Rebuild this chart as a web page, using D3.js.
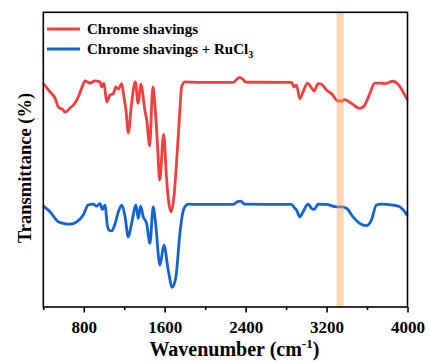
<!DOCTYPE html>
<html><head><meta charset="utf-8">
<script src="https://cdn.jsdelivr.net/npm/d3@7"></script>
<style>body{margin:0;background:#fff}svg{display:block}</style>
</head><body>
<script>
// Data (wavenumber cm-1, transmittance in arbitrary offset units)
const redWave = [400,466,516,548,598,614,664,713,746,779,812,861,911,960,977,1000,1026,1059,1091,1118,1141,1174,1197,1217,1240,1273,1309,1338,1363,1404,1424,1451,1483,1503,1528,1550,1590,1617,1637,1663,1691,1723,1750,1767,1800,1948,2277,2313,2343,2372,2402,2853,2879,2903,2935,2968,3011,3044,3077,3116,3150,3199,3249,3314,3347,3380,3446,3528,3577,3627,3676,3742,3775,3857,3906,3956,4000];
const redT    = [75.8,73.0,70.9,67.9,66.8,66.1,67.5,69.2,71.3,74.2,76.7,76.0,76.7,76.4,74.7,76.0,69.6,71.9,72.4,74.7,73.9,75.8,71.3,66.8,59.1,69.1,76.4,69.1,75.6,66.8,63.1,54.7,74.7,68.5,55.6,43.1,58.6,44.2,36.3,32.3,37.3,52.1,66.8,74.7,76.4,76.2,76.2,77.3,77.9,77.3,76.3,76.2,74.7,75.3,70.7,73.0,76.0,74.7,73.3,75.8,75.6,73.6,72.4,69.9,69.9,70.4,69.1,67.4,68.5,72.4,76.0,76.0,75.8,76.6,75.6,73.0,70.2];
const blueWave = [400,466,516,548,598,664,730,795,844,894,927,960,985,1009,1034,1049,1076,1108,1141,1177,1209,1240,1273,1316,1338,1362,1388,1421,1454,1486,1510,1553,1592,1635,1674,1711,1750,1780,1800,1832,1948,2277,2313,2350,2392,2853,2886,2903,2935,2968,3017,3051,3077,3116,3199,3298,3347,3397,3462,3528,3594,3643,3693,3742,3857,3923,4000];
const blueT    = [34.2,32.3,30.1,28.9,28.4,28.1,28.9,31.2,34.6,34.9,34.2,35.1,33.1,34.6,27.5,26.1,25.8,28.1,32.2,34.6,30.5,23.8,28.4,34.6,30.1,34.2,30.6,28.4,21.6,34.0,28.4,14.2,21.0,12.5,6.7,10.3,25.0,32.2,34.0,34.9,34.8,34.8,35.6,35.9,34.9,34.8,33.5,32.9,30.6,32.3,34.9,33.5,33.1,34.9,34.8,34.0,34.0,33.5,30.6,28.4,27.6,29.5,34.6,34.9,34.6,34.0,31.0];
const majorTicks = [800,1600,2400,3200,4000];
const minorTicks = [400,1200,2000,2800,3600];
const band = [3300,3370];
const seriesNames = ["Chrome shavings","Chrome shavings + RuCl"];
const colors = ["#f43d3d","#1463d6"];

const W=430,H=363, L=43.3, R=407.5, T=12.3, B=307;
const svg=d3.select("body").append("svg").attr("width",W).attr("height",H);
const x=d3.scaleLinear().domain([400,4000]).range([L,R]);
const y=d3.scaleLinear().domain([0,100]).range([B,T]);

const line=d3.line().x(d=>x(d[0])).y(d=>y(d[1])).curve(d3.curveMonotoneX);
const series=[d3.zip(redWave,redT), d3.zip(blueWave,blueT)];
series.forEach((s,i)=>{
  svg.append("path").datum(s).attr("d",line).attr("fill","none")
    .attr("stroke",colors[i]).attr("stroke-width",2.8).attr("stroke-linejoin","round");
});

// band on top, translucent
svg.append("rect").attr("x",x(band[0])).attr("width",x(band[1])-x(band[0]))
  .attr("y",T).attr("height",B-T).attr("fill","#f9a060").attr("opacity",0.45);

// frame
svg.append("rect").attr("x",L).attr("y",T).attr("width",R-L).attr("height",B-T)
  .attr("fill","none").attr("stroke","#000").attr("stroke-width",1.6);

// axis
const ax=svg.append("g").attr("transform",`translate(0,${B})`)
  .call(d3.axisBottom(x).tickValues(majorTicks).tickSize(5.5).tickPadding(8).tickFormat(d3.format("d")));
ax.select(".domain").remove();
ax.selectAll("line").attr("stroke-width",1.6);
ax.selectAll("text").attr("font-family","Liberation Serif, serif").attr("font-weight","bold").attr("font-size",17).attr("fill","#000");
const ax2=svg.append("g").attr("transform",`translate(0,${B})`)
  .call(d3.axisBottom(x).tickValues(minorTicks).tickSize(3).tickFormat(""));
ax2.select(".domain").remove();
ax2.selectAll("line").attr("stroke-width",1.6);

// axis labels
const xl=svg.append("text").attr("x",(L+R)/2+9).attr("y",356).attr("text-anchor","middle")
  .attr("font-family","Liberation Serif, serif").attr("font-weight","bold").attr("font-size",20);
xl.append("tspan").text("Wavenumber (cm");
xl.append("tspan").text("-1").attr("font-size",13).attr("dy",-8);
xl.append("tspan").text(")").attr("dy",8);

svg.append("text").attr("transform","translate(31,168) rotate(-90)").attr("text-anchor","middle")
  .attr("font-family","Liberation Serif, serif").attr("font-weight","bold").attr("font-size",18.5)
  .text("Transmittance (%)");

// legend
const lg=[29,49];
series.forEach((s,i)=>{
  svg.append("line").attr("x1",47).attr("x2",80).attr("y1",lg[i]).attr("y2",lg[i])
    .attr("stroke",colors[i]).attr("stroke-width",2.8);
  const t=svg.append("text").attr("x",87).attr("y",lg[i]+5)
    .attr("font-family","Liberation Serif, serif").attr("font-weight","bold").attr("font-size",15);
  t.append("tspan").text(seriesNames[i]);
  if(i===1) t.append("tspan").text("3").attr("font-size",10).attr("dy",4);
});
</script>
</body></html>
